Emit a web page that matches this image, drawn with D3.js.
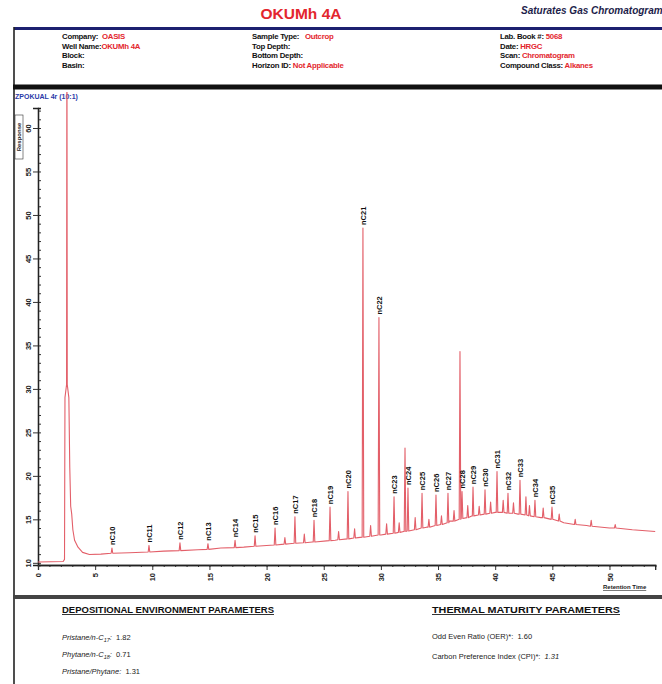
<!DOCTYPE html>
<html>
<head>
<meta charset="utf-8">
<script src="https://cdn.jsdelivr.net/npm/d3@7"></script>
<style>
  body { margin: 0; background: #fff; }
  svg { display: block; }
  text { font-family: "Liberation Sans", Arial, sans-serif; }
</style>
</head>
<body>
<svg id="chart" width="662" height="684"></svg>
<script>
// ---- Trace: solvent front and the unresolved baseline hump (retention time, min / response) ----
const traceRt   = [0, 2.2, 2.32, 2.36, 2.5, 2.53, 2.56, 2.7, 2.78, 2.86, 2.95, 3.05, 3.2, 3.5, 3.9, 4.5, 5.5, 8, 11, 14, 16, 18, 20, 22, 24, 26, 28, 30, 32, 34, 36, 38, 40, 42, 44, 46, 48, 50, 52, 54];
const traceResp = [10.1, 10.15, 10.4, 29.0, 30.5, 75, 30.5, 29.0, 21.0, 16.5, 15.6, 13.8, 12.6, 11.8, 11.2, 10.95, 11.0, 11.15, 11.35, 11.5, 11.7, 11.8, 12.0, 12.2, 12.4, 12.6, 12.9, 13.2, 13.6, 14.1, 14.8, 15.4, 15.8, 15.6, 15.2, 14.6, 14.3, 14.0, 13.8, 13.6];

// ---- Resolved peaks: retention time, foot level, apex response, compound label ----
const peakRt   = [6.47, 9.71, 12.42, 14.87, 17.24, 18.99, 20.74, 22.48, 24.15, 25.55, 27.12, 28.43, 29.83, 31.15, 32.11, 32.37, 33.60, 34.82, 35.87, 36.92, 37.10, 38.06, 39.11, 40.16, 41.12, 42.17, 42.69, 43.48, 44.97];
const peakBase = [11.1, 11.25, 11.4, 11.55, 11.75, 11.9, 12.05, 12.25, 12.4, 12.55, 12.75, 12.95, 13.2, 13.4, 13.6, 13.65, 14.0, 14.3, 14.6, 15.0, 15.1, 15.4, 15.6, 15.8, 15.7, 15.6, 15.5, 15.3, 15.0];
const peakApex = [11.7, 12.0, 12.3, 12.2, 12.6, 13.1, 14.0, 15.3, 14.9, 16.4, 18.2, 48.5, 38.2, 17.6, 23.2, 18.6, 18.0, 17.8, 18.0, 34.3, 18.2, 18.7, 18.4, 20.5, 18.0, 19.5, 17.6, 17.2, 16.4];
const peakName = ["nC10", "nC11", "nC12", "nC13", "nC14", "nC15", "nC16", "nC17", "nC18", "nC19", "nC20", "nC21", "nC22", "nC23", "", "nC24", "nC25", "nC26", "nC27", "", "nC28", "nC29", "nC30", "nC31", "nC32", "nC33", "", "nC34", "nC35"];

// ---- Small unlabelled peaks riding on the hump ----
const minorRt   = [21.6, 23.3, 26.3, 27.7, 29.1, 30.5, 31.6, 33.0, 34.2, 35.3, 36.4, 37.6, 38.6, 39.6, 40.7, 41.6, 43.0, 44.2, 45.6, 47.0, 48.4, 50.5];
const minorBase = [12.15, 12.3, 12.65, 12.85, 13.05, 13.3, 13.5, 13.8, 14.1, 14.4, 14.8, 15.2, 15.5, 15.7, 15.8, 15.7, 15.4, 15.2, 14.8, 14.4, 14.2, 14.0];
const minorApex = [12.9, 13.3, 13.6, 13.9, 14.3, 14.5, 14.6, 15.2, 15.0, 15.4, 16.0, 16.6, 16.5, 17.0, 17.2, 16.9, 16.6, 16.3, 15.6, 15.0, 14.9, 14.4];

// ---- Axis ticks ----
const yMajor = [10, 15, 20, 25, 30, 35, 40, 45, 50, 55, 60];
const yMinor = d3.range(10, 63, 1);
const xMajor = [0, 5, 10, 15, 20, 25, 30, 35, 40, 45, 50];
const xMinor = d3.range(0, 55, 1);

// ---- Header and summary texts ----
const headerCols = [
  { x: 62,  rows: [["Company:  ", "OASIS"], ["Well Name:", "OKUMh 4A"], ["Block:", ""], ["Basin:", ""]] },
  { x: 252, rows: [["Sample Type:   ", "Outcrop"], ["Top Depth:", ""], ["Bottom Depth:", ""], ["Horizon ID: ", "Not Applicable"]] },
  { x: 500, rows: [["Lab. Book #: ", "5068"], ["Date: ", "HRGC"], ["Scan: ", "Chromatogram"], ["Compound Class: ", "Alkanes"]] }
];

const svg = d3.select("#chart");
const red = "#e3262e";
const navy = "#1c2070";

// ---- Page header ----
svg.append("text").attr("x", 301).attr("y", 19).attr("text-anchor", "middle")
  .attr("font-size", 15.5).attr("font-weight", "bold").attr("fill", red).text("OKUMh 4A");
svg.append("text").attr("x", 521).attr("y", 14)
  .attr("font-size", 10).attr("font-weight", "bold").attr("font-style", "italic")
  .attr("fill", "#1d1d4a").text("Saturates Gas Chromatogram");

svg.append("line").attr("x1", 14).attr("x2", 662).attr("y1", 28.5).attr("y2", 28.5)
  .attr("stroke", navy).attr("stroke-width", 3);
svg.append("line").attr("x1", 14).attr("x2", 14).attr("y1", 27).attr("y2", 684)
  .attr("stroke", "#222").attr("stroke-width", 1.6);
svg.append("line").attr("x1", 13).attr("x2", 662).attr("y1", 87).attr("y2", 87)
  .attr("stroke", "#111").attr("stroke-width", 5);

const rowY = [39, 48.5, 58, 67.5];
headerCols.forEach(col => {
  col.rows.forEach((r, i) => {
    const t = svg.append("text").attr("x", col.x).attr("y", rowY[i])
      .attr("font-size", 7.8).attr("font-weight", "bold").attr("letter-spacing", -0.25)
      .attr("xml:space", "preserve");
    t.append("tspan").attr("fill", "#111").text(r[0]);
    if (r[1]) t.append("tspan").attr("fill", red).text(r[1]);
  });
});

// ---- Chromatogram panel ----
svg.append("text").attr("x", 15).attr("y", 99).attr("font-size", 7).attr("font-weight", "bold")
  .attr("fill", "#2a3aa8").text("ZPOKUAL 4r (10:1)");

const x = d3.scaleLinear().domain([0, 54]).range([38, 655.2]);
const y = d3.scaleLinear().domain([9.75, 62.3]).range([565, 108]);

// y axis
const yAxisG = svg.append("g").attr("transform", "translate(38,0)");
yAxisG.call(d3.axisRight(y).tickValues(yMinor).tickSize(3).tickFormat(""));
yAxisG.append("g").call(d3.axisLeft(y).tickValues(yMajor).tickSize(5).tickFormat(d3.format("d")));
yAxisG.selectAll("path.domain").attr("stroke", "#222").attr("stroke-width", 1.3);
yAxisG.selectAll(".tick line").attr("stroke", "#333");
yAxisG.selectAll(".tick text")
  .attr("x", null).attr("dy", "0.35em")
  .attr("transform", "translate(-10,0) rotate(-90)")
  .attr("text-anchor", "middle")
  .attr("font-size", 7.5).attr("font-weight", "bold").attr("fill", "#222");

// y-axis title
const respG = svg.append("g").attr("transform", "translate(19,137) rotate(-90)");
respG.append("rect").attr("x", -22).attr("y", -4).attr("width", 44).attr("height", 8)
  .attr("fill", "none").attr("stroke", "#333").attr("stroke-width", 0.6);
respG.append("text").attr("text-anchor", "middle").attr("dy", "0.33em")
  .attr("font-size", 6).attr("font-weight", "bold").attr("fill", "#222").text("Response");

// x axis
const xAxisG = svg.append("g").attr("transform", "translate(0,565)");
xAxisG.call(d3.axisBottom(x).tickValues(xMinor).tickSize(2).tickFormat(""));
xAxisG.append("g").call(d3.axisBottom(x).tickValues(xMajor).tickSize(5).tickFormat(d3.format("d")));
xAxisG.selectAll("path.domain").attr("stroke", "#222").attr("stroke-width", 1.3);
xAxisG.selectAll(".tick line").attr("stroke", "#333");
xAxisG.selectAll(".tick text")
  .attr("y", null).attr("dy", "0.35em")
  .attr("transform", "translate(0,8) rotate(-90)")
  .attr("text-anchor", "end")
  .attr("font-size", 7.5).attr("font-weight", "bold").attr("fill", "#222");

svg.append("text").attr("x", 603).attr("y", 589).attr("font-size", 6).attr("font-weight", "bold")
  .attr("fill", "#222").attr("text-decoration", "underline").text("Retention Time");

// build the trace from the baseline points plus each peak's foot-apex-foot
const half = 0.07;
let pts = traceRt.map((t, i) => [t, traceResp[i]]);
peakRt.forEach((t, i) => {
  pts.push([t - half, peakBase[i]], [t, peakApex[i]], [t + half, peakBase[i]]);
});
minorRt.forEach((t, i) => {
  pts.push([t - half, minorBase[i]], [t, minorApex[i]], [t + half, minorBase[i]]);
});
pts.sort((a, b) => a[0] - b[0]);

svg.append("clipPath").attr("id", "plotClip").append("rect")
  .attr("x", 38).attr("y", 92).attr("width", 624).attr("height", 474);

svg.append("path").datum(pts)
  .attr("clip-path", "url(#plotClip)")
  .attr("fill", "none").attr("stroke", "#e35f69").attr("stroke-width", 1.1)
  .attr("stroke-linejoin", "round")
  .attr("d", d3.line().x(d => x(d[0])).y(d => y(d[1])));

// compound labels above their peaks
const labelled = peakRt.map((t, i) => ({ t, v: peakApex[i], name: peakName[i] })).filter(d => d.name);
svg.append("g").selectAll("text").data(labelled).join("text")
  .attr("transform", d => `translate(${x(d.t)},${y(d.v) - 3}) rotate(-90)`)
  .attr("dy", "0.35em")
  .attr("font-size", 7.5).attr("font-weight", "bold").attr("fill", "#111")
  .text(d => d.name);

// ---- Summary panel ----
svg.append("line").attr("x1", 13).attr("x2", 662).attr("y1", 597).attr("y2", 597)
  .attr("stroke", "#444").attr("stroke-width", 4);

svg.append("text").attr("x", 62).attr("y", 613).attr("font-size", 8.5).attr("font-weight", "bold")
  .attr("textLength", 212).attr("lengthAdjust", "spacingAndGlyphs")
  .attr("text-decoration", "underline").attr("fill", "#111").text("DEPOSITIONAL ENVIRONMENT PARAMETERS");
svg.append("text").attr("x", 432).attr("y", 613).attr("font-size", 8.5).attr("font-weight", "bold")
  .attr("textLength", 188).attr("lengthAdjust", "spacingAndGlyphs")
  .attr("text-decoration", "underline").attr("fill", "#111").text("THERMAL MATURITY PARAMETERS");

const depoLabels = [["Pristane/n-C", "17", ": ", "1.82"], ["Phytane/n-C", "18", ": ", "0.71"], ["Pristane/Phytane", "", ": ", "1.31"]];
const depoY = [640, 657, 674];
depoLabels.forEach((r, i) => {
  const t = svg.append("text").attr("x", 62).attr("y", depoY[i]).attr("font-size", 7.5)
    .attr("font-style", "italic").attr("fill", "#222").attr("xml:space", "preserve");
  t.append("tspan").text(r[0]);
  if (r[1]) t.append("tspan").attr("font-size", 5.5).attr("dy", 2).text(r[1]);
  t.append("tspan").attr("dy", r[1] ? -2 : 0).text(r[2] + " ");
  t.append("tspan").attr("font-style", "normal").text(r[3]);
});

const maturity = [["Odd Even Ratio (OER)*:  ", "1.60"], ["Carbon Preference Index (CPI)*:  ", "1.31"]];
const matY = [639, 659];
maturity.forEach((r, i) => {
  const t = svg.append("text").attr("x", 432).attr("y", matY[i]).attr("font-size", 7.5)
    .attr("fill", "#222").attr("xml:space", "preserve");
  t.append("tspan").text(r[0]);
  t.append("tspan").attr("font-style", i ? "italic" : "normal").text(r[1]);
});
</script>
</body>
</html>
